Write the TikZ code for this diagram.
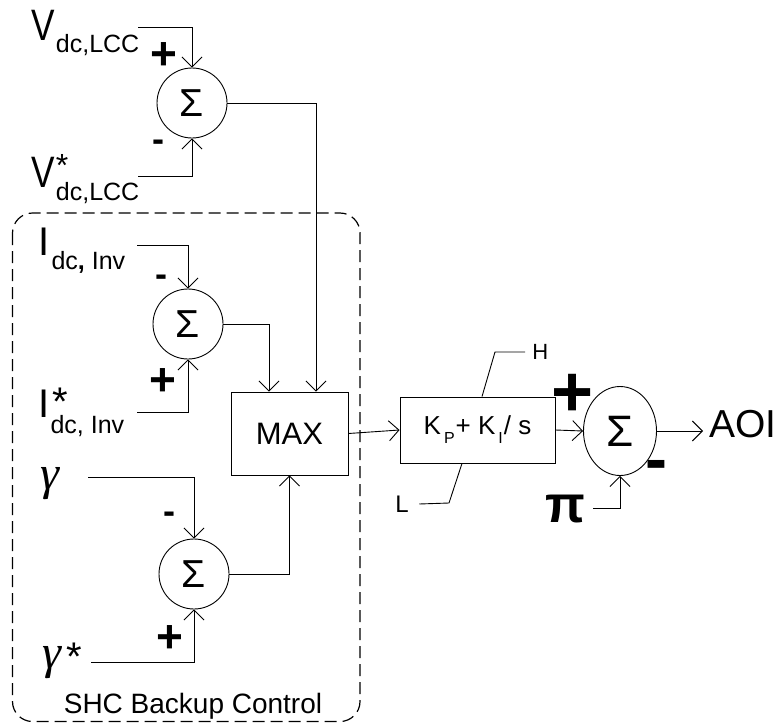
\documentclass[tikz,border=0pt]{standalone}
\usepackage{fontspec}
\setmainfont{Liberation Sans}
\newfontfamily\serif{Liberation Serif}
\usetikzlibrary{arrows.meta,shapes.geometric}
\newcommand{\fs}[1]{\fontsize{#1}{#1}\selectfont}
\begin{document}
\begin{tikzpicture}[x=1pt,y=-1pt,
  line width=0.9pt,
  arr/.style={-{Straight Barb[length=10pt,width=20pt,line width=0.9pt]}},
  sumnode/.style={draw,circle,minimum size=70pt,inner sep=0pt,font=\fs{39}},
  blk/.style={draw,rectangle,inner sep=0pt},
  lbl/.style={anchor=base west,inner sep=0pt},
  sg/.style={inner sep=0pt,font=\fs{46}\bfseries},
  sm/.style={inner sep=0pt,font=\fs{36}\bfseries},
]
\useasboundingbox (0,0) rectangle (779,723);

% dashed frame
\draw[line width=1.2pt,dash pattern=on 12pt off 6pt, rounded corners=20pt] (12.5,213) rectangle (360,721.5);
\node[anchor=base,inner sep=0pt,font=\fs{28}] (shc) at (193,713) {SHC Backup Control};

% summing junctions
\node[sumnode] (s1) at (192,103) {Σ};
\node[sumnode] (s2) at (188,324) {Σ};
\node[sumnode] (s3) at (194,574) {Σ};
\node[draw,ellipse,minimum width=73pt,minimum height=89pt,inner sep=0pt,font=\fs{44}] (s4) at (620,431) {Σ};

% blocks
\node[blk,minimum width=117pt,minimum height=83pt,font=\fs{31}] (max) at (289.5,433.5) {MAX};
\node[blk,minimum width=155pt,minimum height=66pt,font=\fs{26}] (pi) at (477.5,430)
  {K\kern3pt\raisebox{-9pt}{\fs{16}P}\kern1pt+ K\kern3pt\raisebox{-9pt}{\fs{16}I}\kern1pt/ s};

% input labels
\node[lbl] (vlcc) at (31,40) {\fs{44}\scalebox{0.8}[1]{V}\kern1pt\fs{25}\raisebox{-12pt}{dc,LCC}};
\node[lbl] (vlccs) at (31,187) {\fs{44}\scalebox{0.8}[1]{V}\rlap{\fs{32}\raisebox{11pt}{\kern1pt*}}\kern1pt\fs{25}\raisebox{-13pt}{dc,LCC}};
\node[lbl] (idc) at (38,255) {\fs{40}I\kern2pt\fs{25}\raisebox{-14pt}{dc{\bfseries,} Inv}};
\node[lbl] (idcs) at (38,417) {\fs{40}I\rlap{\fs{40}\raisebox{2pt}{\kern3pt*}}\kern1pt\fs{25}\raisebox{-16pt}{dc, Inv}};
\node[lbl] (gam) at (40,489) {\serif\itshape\fs{48}γ};
\node[lbl] (gams) at (42,668) {\serif\itshape\fs{48}γ\kern5pt\sffamily\upshape\fontspec{Liberation Sans}\fs{40}\raisebox{-2pt}{*}};
\node[lbl,font=\fs{52}\bfseries] (pil) at (545,522) {π};
\node[anchor=base west,inner sep=0pt,font=\fs{39}] (aoi) at (709,437) {AOI};
\node[anchor=west,inner sep=0pt,font=\fs{22}] (hn) at (532,352) {H};
\node[anchor=west,inner sep=0pt,font=\fs{24}] (ln) at (395,504) {L};

% signs
\node[sg] (p1) at (164,56) {+};
\node[sm] (m1) at (158,146) {-};
\node[sm] (m2) at (161,281) {-};
\node[sg] (p2) at (163,382) {+};
\node[sm] (m3) at (169,518) {-};
\node[sg] (p3) at (170,639) {+};
\node[inner sep=0pt,font=\fs{72}\bfseries] (p4) at (573,395) {+};
\node[inner sep=0pt,font=\fs{66}\bfseries] (m4) at (656,471) {-};

% line start / end points
\coordinate (v1) at (138,27);
\coordinate (v2) at (138,176);
\coordinate (i1) at (137,245);
\coordinate (i2) at (137,412);
\coordinate (g1) at (88,477);
\coordinate (g2) at (91,662);
\coordinate (pc) at (593,508);
\coordinate (hk) at (495,352);
\coordinate (lk) at (449,503);
\coordinate (ae) at (703,431);

% connectors
\draw[arr] (v1) -| (s1.north);
\draw[arr] (v2) -| (s1.south);
\draw[arr] (i1) -| (s2.north);
\draw[arr] (i2) -| (s2.south);
\draw[arr] (g1) -| (s3.north);
\draw[arr] (g2) -| (s3.south);
\draw[arr] (s1.east) -| ([xshift=26.5pt]max.north);
\draw[arr] (s2.east) -| ([xshift=-20.5pt]max.north);
\draw[arr] (s3.east) -| (max.south);
\draw[arr] (max.east) -- (pi.west);
\draw[arr] (pi.east) -- (s4.west);
\draw[arr] (s4.east) -- (s4.east -| ae);
\draw[arr] (pc) -| (s4.south);
\draw ([xshift=4.5pt]pi.north) -- (hk) -- ([xshift=-7pt]hn.west);
\draw ([xshift=-15.5pt]pi.south) -- (lk) -- ([xshift=10pt]ln.east);
\end{tikzpicture}
\end{document}
